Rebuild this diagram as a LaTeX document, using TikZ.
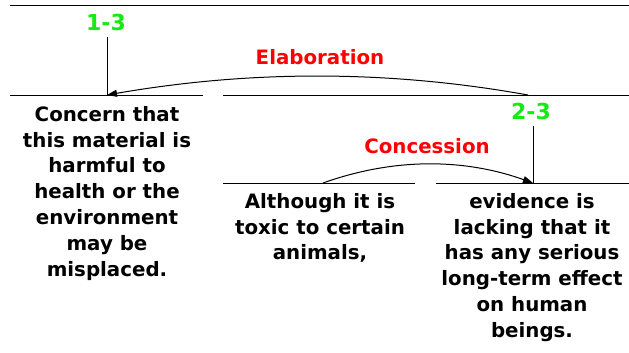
\documentclass[tikz,border=0pt]{standalone}
\usepackage{fontspec}
\setmainfont{DejaVu Sans}
\usetikzlibrary{arrows.meta}
\definecolor{rstgreen}{RGB}{20,235,20}
\definecolor{rstred}{RGB}{255,0,0}
\begin{document}
\begin{tikzpicture}[x=1pt,y=-1pt,
  span/.style={line width=1pt},
  rel/.style={line width=1pt,-{Triangle[length=10pt,width=7pt]}},
  txt/.style={font=\bfseries\fontsize{19.8}{25.8}\selectfont, align=center, inner sep=0pt, anchor=north},
  num/.style={font=\bfseries\fontsize{22}{26}\selectfont, text=rstgreen, inner sep=0pt},
  rlab/.style={font=\bfseries\fontsize{19.8}{24}\selectfont, text=rstred, inner sep=0pt}]
\useasboundingbox (0,0) rectangle (629,353);
\fill[white] (0,0) rectangle (629,353);
% span lines
\coordinate (topL) at (10,6);
\coordinate (topR) at (629,6);
\coordinate (s1L) at (10,95);
\coordinate (s1R) at (203,95);
\coordinate (s23L) at (223,95);
\coordinate (s23R) at (629,95);
\coordinate (s2L) at (223,183);
\coordinate (s2R) at (415,183);
\coordinate (s3L) at (436,183);
\coordinate (s3R) at (629,183);
\draw[span] (topL) -- (topR);
\draw[span] (s1L) -- (s1R);
\draw[span] (s23L) -- (s23R);
\draw[span] (s2L) -- (s2R);
\draw[span] (s3L) -- (s3R);
% labels
\node[num] (l13) at (106,22) {1-3};
\node[num] (l23) at (531,111) {2-3};
\node[rlab] (elab) at (320,57) {Elaboration};
\node[rlab] (conc) at (427,146) {Concession};
% verticals
\coordinate (v13t) at (107,37);
\coordinate (v13b) at (107,95);
\coordinate (v23t) at (533,126);
\coordinate (v23b) at (533,183);
\draw[span] (v13t) -- (v13b);
\draw[span] (v23t) -- (v23b);
% relation arcs
\coordinate (eS) at (528,95);
\coordinate (cS) at (323,183);
\draw[rel] (eS) .. controls (389,70) and (251,70) .. (v13b);
\draw[rel] (cS) .. controls (393,158) and (463,158) .. (v23b);
% texts
\node[txt] (t1) at (107,106) {Concern that\\this material is\\harmful to\\health or the\\environment\\may be\\misplaced.};
\node[txt] (t2) at (320,193) {Although it is\\toxic to certain\\animals,};
\node[txt] (t3) at (532,193) {evidence is\\lacking that it\\has any serious\\long-term effect\\on human\\beings.};
\end{tikzpicture}
\end{document}
